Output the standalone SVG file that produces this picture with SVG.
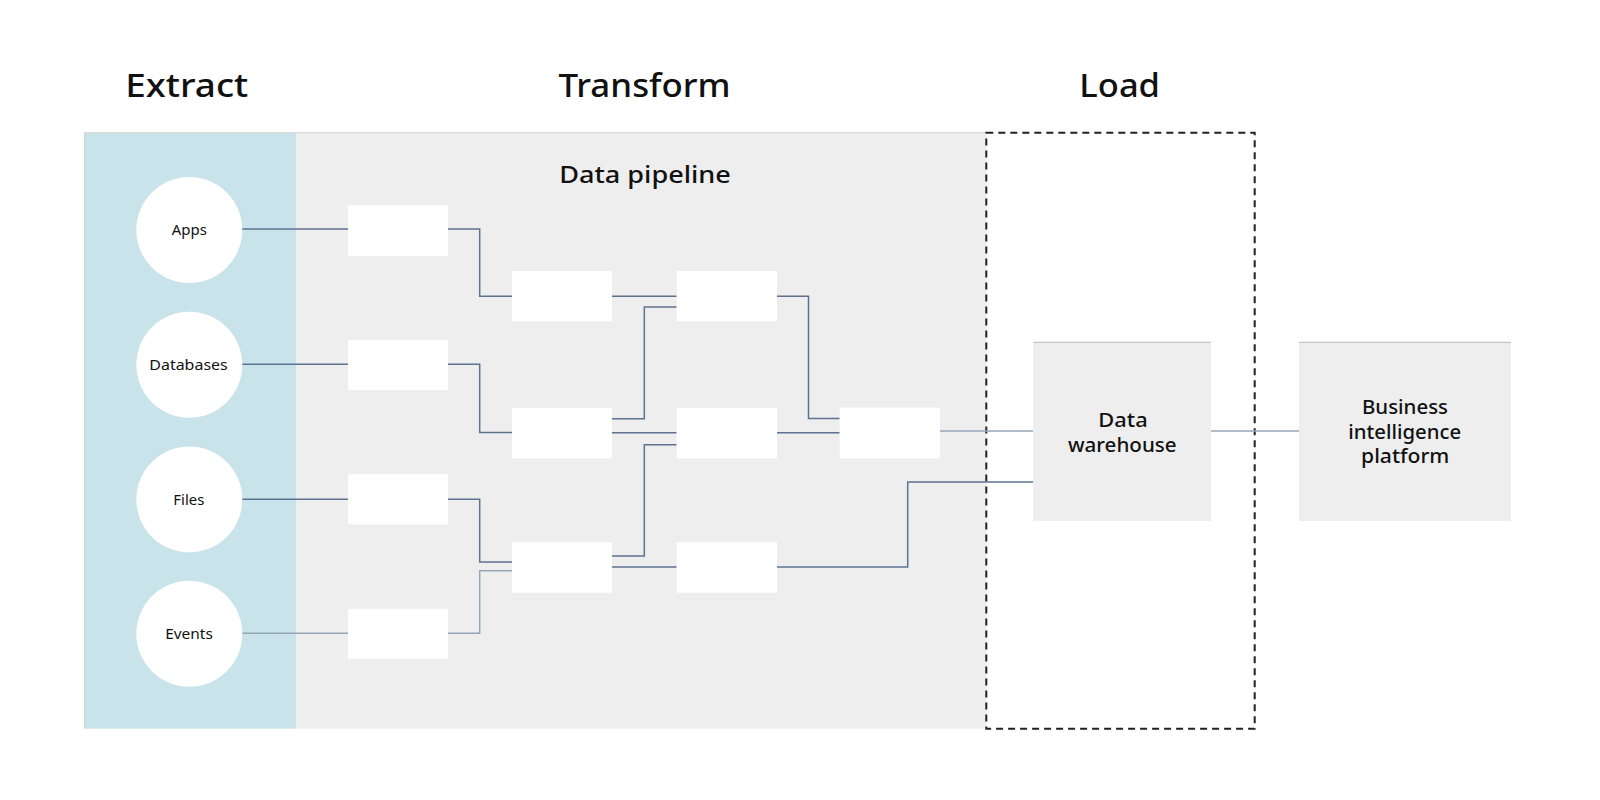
<svg xmlns="http://www.w3.org/2000/svg" width="1600" height="800" viewBox="0 0 1600 800">
<style>
text{font-family:"Noto Sans","Open Sans","Liberation Sans",sans-serif;fill:#111;text-anchor:middle}
.title{font-weight:500;font-size:32px}
.sub{font-weight:500;font-size:24px}
.lbl{font-weight:400;font-size:14.5px}
.big{font-weight:500;font-size:19px}
.circ{fill:#ffffff}
.step{fill:#ffffff}
.dest{fill:#eeeeee}
.edge{fill:none;stroke:#5d7390;stroke-width:1.5}
.edge2{fill:none;stroke:#94a6b8;stroke-width:1.5}
</style>
<rect width="1600" height="800" fill="#ffffff"/>
<g id="panels">
<rect x="84.7" y="132.7" width="211.6" height="596" fill="#c9e3ea"/>
<rect x="296.3" y="132.7" width="690" height="596" fill="#eeeeee"/>
<line x1="84.7" y1="132.7" x2="986.3" y2="132.7" stroke="#dcdcdc" stroke-width="1.5"/>
<line x1="84.7" y1="132.7" x2="84.7" y2="728.7" stroke="#cfcfcf" stroke-width="1.2"/>
<rect x="986.3" y="132.7" width="268.4" height="596" fill="none" stroke="#222" stroke-width="2" stroke-dasharray="7 5"/>
</g>
<g id="titles">
<text class="title" x="186.7" y="96.7" textLength="123" lengthAdjust="spacingAndGlyphs">Extract</text>
<text class="title" x="644.5" y="96.7" textLength="172" lengthAdjust="spacingAndGlyphs">Transform</text>
<text class="title" x="1119.7" y="96.7" textLength="80.7" lengthAdjust="spacingAndGlyphs">Load</text>
<text class="sub" x="645" y="182.7" textLength="171.7" lengthAdjust="spacingAndGlyphs">Data pipeline</text>
</g>
<g id="connectors">
<path class="edge" d="M242 229H348"/>
<path class="edge" d="M448 229H479.7V296.3H512"/>
<path class="edge" d="M242 364.3H348"/>
<path class="edge" d="M448 364.3H479.7V432.5H512"/>
<path class="edge" d="M242 499.3H348"/>
<path class="edge" d="M448 499.3H479.7V562H512"/>
<path class="edge2" d="M242 633.3H348"/>
<path class="edge2" d="M448 633.3H479.7V570.7H512"/>
<path class="edge" d="M612 296.3H676.7"/>
<path class="edge" d="M612 418.7H644.3V307H676.7"/>
<path class="edge" d="M612 432.8H676.7"/>
<path class="edge" d="M612 556H644.3V444.7H676.7"/>
<path class="edge" d="M612 567H676.7"/>
<path class="edge" d="M777 296.3H808.5V418.5H839.7"/>
<path class="edge" d="M777 432.8H839.7"/>
<path class="edge" d="M777 567H907.7V482H1033.3"/>
<path class="edge2" d="M940 431H1033.3"/>
<path class="edge2" d="M1211 431H1299"/>
</g>
<g id="apps"><circle class="circ" cx="189.3" cy="230" r="53"/><text class="lbl" x="189.3" y="235" textLength="35" lengthAdjust="spacingAndGlyphs">Apps</text></g>
<g id="databases"><circle class="circ" cx="189.3" cy="364.8" r="53"/><text class="lbl" x="188.5" y="370" textLength="78.4" lengthAdjust="spacingAndGlyphs">Databases</text></g>
<g id="files"><circle class="circ" cx="189.3" cy="499.4" r="53"/><text class="lbl" x="188.8" y="504.5" textLength="31" lengthAdjust="spacingAndGlyphs">Files</text></g>
<g id="events"><circle class="circ" cx="189.3" cy="633.8" r="53"/><text class="lbl" x="189" y="639" textLength="47.7" lengthAdjust="spacingAndGlyphs">Events</text></g>
<g id="s1a"><rect class="step" x="348" y="205.3" width="100" height="50.7"/></g>
<g id="s1b"><rect class="step" x="348" y="339.8" width="100" height="50.2"/></g>
<g id="s1c"><rect class="step" x="348" y="474.2" width="100" height="50.2"/></g>
<g id="s1d"><rect class="step" x="348" y="608.8" width="100" height="50"/></g>
<g id="s2a"><rect class="step" x="512" y="271" width="100" height="50.3"/></g>
<g id="s2b"><rect class="step" x="512" y="408" width="100" height="50.3"/></g>
<g id="s2c"><rect class="step" x="512" y="542.3" width="100" height="50.4"/></g>
<g id="s3a"><rect class="step" x="676.7" y="271" width="100.3" height="50.3"/></g>
<g id="s3b"><rect class="step" x="676.7" y="408" width="100.3" height="50.3"/></g>
<g id="s3c"><rect class="step" x="676.7" y="542.3" width="100.3" height="50.4"/></g>
<g id="s4"><rect class="step" x="839.7" y="407.7" width="100.3" height="50.6"/></g>
<g id="warehouse">
<rect class="dest" x="1033.3" y="342.3" width="177.7" height="178.7"/>
<line x1="1033.3" y1="342.3" x2="1211" y2="342.3" stroke="#c4c4c4" stroke-width="1.2"/>
<text class="big" x="1123" y="426.7" textLength="49.3" lengthAdjust="spacingAndGlyphs">Data</text>
<text class="big" x="1122.3" y="451.7" textLength="108.7" lengthAdjust="spacingAndGlyphs">warehouse</text>
</g>
<g id="bi">
<rect class="dest" x="1299" y="342.3" width="212" height="178.7"/>
<line x1="1299" y1="342.3" x2="1511" y2="342.3" stroke="#c4c4c4" stroke-width="1.2"/>
<text class="big" x="1405" y="414.3" textLength="86" lengthAdjust="spacingAndGlyphs">Business</text>
<text class="big" x="1404.7" y="438.8" textLength="112.7" lengthAdjust="spacingAndGlyphs">intelligence</text>
<text class="big" x="1405.2" y="463.3" textLength="88.3" lengthAdjust="spacingAndGlyphs">platform</text>
</g>
</svg>
